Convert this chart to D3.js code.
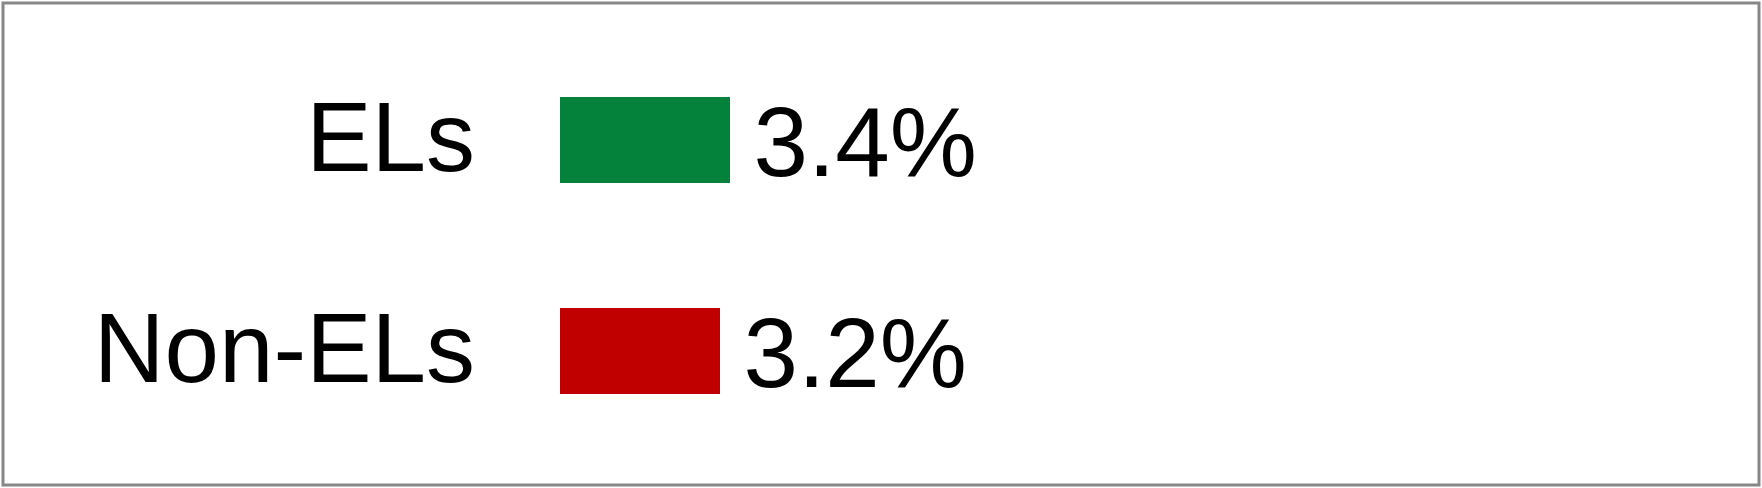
<!DOCTYPE html>
<html>
<head>
<meta charset="utf-8">
<script src="https://cdn.jsdelivr.net/npm/d3@7/dist/d3.min.js"></script>
<style>
  html, body { margin: 0; padding: 0; background: #fff; }
  svg { display: block; }
  text { font-family: "Liberation Sans", Arial, sans-serif; fill: #000; }
</style>
</head>
<body>
<svg id="chart" width="1762" height="488"></svg>
<script>
const categories = ["ELs", "Non-ELs"];
const values = [3.4, 3.2];
const valueLabels = ["3.4%", "3.2%"];
const colors = ["#04823c", "#c00000"];

const W = 1762, H = 488;
const svg = d3.select("#chart");

svg.append("rect")
  .attr("x", 3).attr("y", 3)
  .attr("width", W - 6).attr("height", H - 6)
  .attr("fill", "#fff")
  .attr("stroke", "#878787")
  .attr("stroke-width", 3);

const x = d3.scaleLinear().domain([0, 10]).range([560, 1060]);
const y = d3.scaleBand()
  .domain(categories)
  .range([12.6, 478.4])
  .paddingInner(0.5924)
  .paddingOuter(0.4);

const rows = categories.map((c, i) => ({ c, v: values[i], label: valueLabels[i], color: colors[i] }));

svg.selectAll("rect.bar")
  .data(rows)
  .join("rect")
  .attr("class", "bar")
  .attr("x", x(0))
  .attr("y", d => y(d.c))
  .attr("width", d => x(d.v) - x(0))
  .attr("height", y.bandwidth())
  .attr("fill", d => d.color);

svg.selectAll("text.cat")
  .data(rows)
  .join("text")
  .attr("class", "cat")
  .attr("x", 475)
  .attr("y", d => y(d.c) + y.bandwidth() / 2 + 31)
  .attr("text-anchor", "end")
  .attr("font-size", 98)
  .text(d => d.c);

svg.selectAll("text.val")
  .data(rows)
  .join("text")
  .attr("class", "val")
  .attr("x", d => x(d.v) + 23.5)
  .attr("y", d => y(d.c) + y.bandwidth() / 2 + 36)
  .attr("font-size", 98)
  .text(d => d.label);
</script>
</body>
</html>
